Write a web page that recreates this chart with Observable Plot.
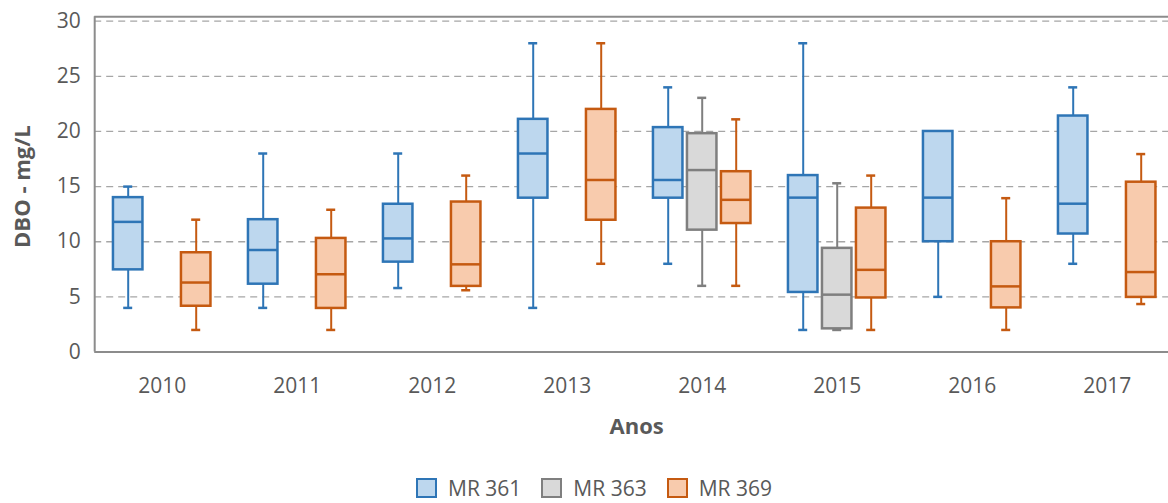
<!DOCTYPE html>
<html>
<head>
<meta charset="utf-8">
<script src="https://cdn.jsdelivr.net/npm/d3@7"></script>
<script src="https://cdn.jsdelivr.net/npm/@observablehq/plot@0.6"></script>
<style>
  html, body { margin: 0; padding: 0; background: #fff; overflow: hidden; }
  #legend { display: flex; justify-content: center; align-items: flex-start; height: 33px; box-sizing: border-box; padding-top: 8px; padding-left: 40px;
    font-family: "Open Sans", sans-serif; font-size: 21px; color: #595959; }
  .item { display: flex; align-items: center; margin-right: 20px; line-height: 20px; }
  .sw { width: 17px; height: 16px; border: 2px solid; margin-right: 11px; }
</style>
</head>
<body>
<div id="chart"></div>
<div id="legend"></div>
<script>
// ---- data (five-number summaries: min, q1, median, q3, max) ----
const years = [2010, 2011, 2012, 2013, 2014, 2015, 2016, 2017];
const seriesNames = ["MR 361", "MR 363", "MR 369"];
const mr361 = [
  [4.0, 7.45, 11.8, 14.0, 15.0],
  [4.0, 6.15, 9.25, 12.0, 18.0],
  [5.8, 8.15, 10.3, 13.4, 18.0],
  [4.0, 13.95, 18.0, 21.1, 28.0],
  [8.0, 13.95, 15.6, 20.35, 24.0],
  [2.0, 5.4, 14.0, 16.0, 28.0],
  [5.0, 10.0, 14.0, 20.0, 20.0],
  [8.0, 10.7, 13.45, 21.4, 24.0]
];
const mr363 = [null, null, null, null,
  [6.0, 11.05, 16.5, 19.8, 23.05],
  [2.0, 2.1, 5.2, 9.4, 15.3],
  null, null];
const mr369 = [
  [2.0, 4.15, 6.3, 9.0, 12.0],
  [2.0, 3.95, 7.05, 10.3, 12.9],
  [5.6, 5.95, 7.95, 13.6, 16.0],
  [8.0, 11.95, 15.6, 22.0, 28.0],
  [6.0, 11.65, 13.8, 16.35, 21.1],
  [2.0, 4.9, 7.45, 13.05, 16.0],
  [2.0, 4.0, 5.95, 10.0, 13.95],
  [4.35, 4.95, 7.25, 15.4, 17.95]
];
const yTicks = [0, 5, 10, 15, 20, 25, 30];
const strokeColors = ["#2E75B6", "#7F7F7F", "#C55A11"];
const fillColors = ["#BDD7EE", "#D9D9D9", "#F8CBAD"];

// ---- build table ----
const allStats = [mr361, mr363, mr369];
const rows = [];
allStats.forEach((arr, si) => arr.forEach((s, yi) => {
  if (!s) return;
  rows.push({series: seriesNames[si], si, year: years[yi], min: s[0], q1: s[1], median: s[2], q3: s[3], max: s[4]});
}));

const W = 1168, H = 470;
const pxPerYear = 135;
const mLeft = 94.2;
const slot = 34 / pxPerYear;       // offset between series within a year
const hw = 14.75 / pxPerYear;      // box half width
const cap = 4.5 / pxPerYear;       // whisker cap half width
const cx = d => d.year + (d.si - 1) * slot;

const marks = [
  Plot.ruleY(yTicks.filter(v => v > 0), {stroke: "#a6a6a6", strokeWidth: 1.3, strokeDasharray: "7,5"}),
  Plot.ruleY([30], {dy: -4.5, stroke: "#8c8c8c", strokeWidth: 2}),
  Plot.ruleY([0], {stroke: "#8c8c8c", strokeWidth: 2}),
  Plot.ruleX([years[0] - 0.5], {stroke: "#8c8c8c", strokeWidth: 2, insetTop: -4.5})
];
seriesNames.forEach((name, si) => {
  const data = rows.filter(r => r.si === si);
  const st = strokeColors[si], fl = fillColors[si];
  marks.push(
    Plot.ruleX(data, {x: cx, y1: "q3", y2: "max", stroke: st, strokeWidth: 2}),
    Plot.ruleX(data, {x: cx, y1: "min", y2: "q1", stroke: st, strokeWidth: 2}),
    Plot.ruleY(data, {x1: d => cx(d) - cap, x2: d => cx(d) + cap, y: "max", stroke: st, strokeWidth: 2.5}),
    Plot.ruleY(data, {x1: d => cx(d) - cap, x2: d => cx(d) + cap, y: "min", stroke: st, strokeWidth: 2.5}),
    Plot.rect(data, {x1: d => cx(d) - hw, x2: d => cx(d) + hw, y1: "q1", y2: "q3", fill: fl, stroke: st, strokeWidth: 2.5}),
    Plot.ruleY(data, {x1: d => cx(d) - hw, x2: d => cx(d) + hw, y: "median", stroke: st, strokeWidth: 2.5})
  );
});
marks.push(
  Plot.text(["Anos"], {frameAnchor: "bottom", dy: 81.5, dx: 5, fontWeight: "bold", fontSize: 22, fill: "#595959"}),
  Plot.text(["DBO - mg/L"], {frameAnchor: "left", textAnchor: "middle", dx: -72, rotate: -90, fontWeight: "bold", fontSize: 22, fill: "#595959"})
);

const chart = Plot.plot({
  width: W,
  height: H,
  marginLeft: mLeft,
  marginRight: 0,
  marginTop: 20.7,
  marginBottom: H - 351.5,
  style: {fontFamily: "Open Sans, sans-serif", fontSize: "21px", color: "#595959", background: "#fff"},
  x: {
    type: "linear",
    domain: [years[0] - 0.5, years[0] - 0.5 + (W - mLeft) / pxPerYear],
    ticks: years, tickFormat: d => String(d), tickSize: 0, tickPadding: 26, label: null, line: false
  },
  y: {domain: [0, 30], ticks: yTicks, tickSize: 0, tickPadding: 14, label: null},
  marks
});
document.getElementById("chart").appendChild(chart);

// ---- legend ----
const lg = document.getElementById("legend");
seriesNames.forEach((name, i) => {
  const it = document.createElement("div");
  it.className = "item";
  const sw = document.createElement("span");
  sw.className = "sw";
  sw.style.borderColor = strokeColors[i];
  sw.style.background = fillColors[i];
  const tx = document.createElement("span");
  tx.textContent = name;
  it.appendChild(sw); it.appendChild(tx);
  lg.appendChild(it);
});
</script>
</body>
</html>
